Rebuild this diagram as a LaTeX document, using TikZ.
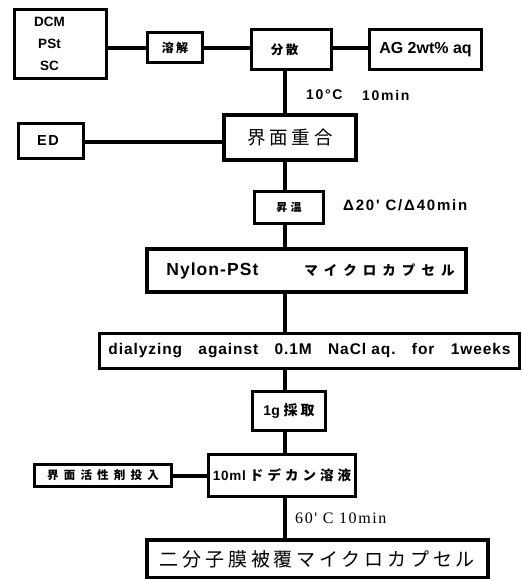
\documentclass[tikz,border=0pt]{standalone}
\usepackage{fontspec}
\setmainfont{Liberation Sans}
\newfontfamily\cjk{Noto Sans CJK JP}
\newfontfamily\cjksp[LetterSpace=20]{Noto Sans CJK JP}
\newfontfamily\cjkspb[LetterSpace=30]{Noto Sans CJK JP}
\newfontfamily\cjkspc[LetterSpace=45]{Noto Sans CJK JP}
\newfontfamily\latsp[LetterSpace=6]{Liberation Sans}
\newfontfamily\latspb[LetterSpace=12]{Liberation Sans}
\newfontfamily\serifface[LetterSpace=10]{Liberation Serif}
\begin{document}
\begin{tikzpicture}[x=1pt,y=-1pt,
  box/.style={draw, line width=3.4pt, inner sep=0pt, align=center},
  heavy/.style={box, line width=4.2pt},
  conn/.style={line width=3.2pt},
  lbl/.style={inner sep=0pt, anchor=west}]
\useasboundingbox (0,0) rectangle (522,579);
\coordinate (spine) at (285,0);

% row 1
\node[box, minimum width=92pt, minimum height=69pt, font=\bfseries\fontsize{13.5}{22}\selectfont] (dcm) at (60.5,44)
  {\raisebox{4pt}{\begin{tabular}{@{}c@{\hspace{22pt}}}DCM\\PSt\\SC\end{tabular}}};
\node[box, minimum width=55pt, minimum height=30pt, font=\bfseries\fontsize{12}{14}\selectfont\cjksp] (yokai) at (175,47.5) {溶解};
\node[box, minimum width=80pt, minimum height=40pt, font=\bfseries\fontsize{12.5}{14}\selectfont\cjksp] (bunsan) at (291.5,49.5) {分散\hspace*{14pt}};
\node[box, minimum width=112pt, minimum height=40pt, font=\bfseries\fontsize{16}{18}\selectfont] (ag) at (425.5,49.5) {AG 2wt\% aq};
\draw[conn] (dcm.east |- 0,48) -- (yokai.west |- 0,48);
\draw[conn] (yokai.east |- 0,48) -- (bunsan.west |- 0,48);
\draw[conn] (bunsan.east |- 0,48) -- (ag.west |- 0,48);

\node[lbl, font=\bfseries\fontsize{14}{16}\selectfont\latspb] (t1) at (306,95) {10°C};
\node[lbl, font=\bfseries\fontsize{14}{16}\selectfont\latspb] (t2) at (362,95) {10min};

% row 2
\node[heavy, minimum width=132pt, minimum height=45pt, font=\fontsize{18.5}{20}\selectfont\cjksp] (jugo) at (290,137.5) {界面重合};
\node[box, minimum width=65pt, minimum height=35pt, font=\bfseries\fontsize{14.5}{16}\selectfont\latspb] (ed) at (51,141) {ED\hspace*{6pt}};
\draw[conn] (ed.east |- 0,142) -- (jugo.west |- 0,142);
\draw[conn] (bunsan.south -| spine) -- (jugo.north -| spine);

\node[box, minimum width=69pt, minimum height=32pt, font=\bfseries\fontsize{11}{13}\selectfont\cjkspb] (shoon) at (289,207.5) {昇温};
\draw[conn] (jugo.south -| spine) -- (shoon.north -| spine);
\node[lbl, font=\bfseries\fontsize{15}{17}\selectfont\latspb] (t3) at (343,205) {Δ20' C/Δ40min};

\node[heavy, minimum width=319pt, minimum height=43pt] (nylon) at (306.5,270.5)
  {\hspace*{8pt}\bfseries\fontsize{17.5}{19}\selectfont\latsp Nylon-PSt\hspace{46pt}\fontsize{13.5}{15}\selectfont\cjkspc マイクロカプセル};
\draw[conn] (shoon.south -| spine) -- (nylon.north -| spine);

\node[box, minimum width=420pt, minimum height=35pt, font=\bfseries\fontsize{15.5}{17}\selectfont\latsp] (dial) at (309.5,351)
  {dialyzing\hspace{1.05em}against\hspace{1.05em}0.1M\hspace{1.05em}NaCl aq.\hspace{1.05em}for\hspace{1.05em}1weeks};
\draw[conn] (nylon.south -| spine) -- (dial.north -| spine);

\node[box, minimum width=73pt, minimum height=39pt, font=\bfseries\fontsize{14}{16}\selectfont] (saishu) at (289,411) {1g {\cjksp 採取}};
\draw[conn] (dial.south -| spine) -- (saishu.north -| spine);

\node[box, minimum width=147pt, minimum height=42pt, font=\bfseries\fontsize{13.5}{16}\selectfont] (dodecane) at (282,475.5) {{\latsp 10ml}\hspace{4pt}{\cjkspb ドデカン溶液}};
\node[box, minimum width=137pt, minimum height=22pt, font=\bfseries\fontsize{11.5}{13}\selectfont] (kaimen) at (103,475.5) {\cjkspc 界面活性剤投入};
\draw[conn] (kaimen.east |- 0,476) -- (dodecane.west |- 0,476);
\draw[conn] (saishu.south -| spine) -- (dodecane.north -| spine);

\node[lbl, font=\serifface\fontsize{16}{18}\selectfont] (t4) at (295,518) {60' C 10min};

\node[heavy, minimum width=341pt, minimum height=38pt, font=\fontsize{19}{21}\selectfont\cjksp] (final) at (317.5,559) {二分子膜被覆マイクロカプセル};
\draw[conn] (dodecane.south -| spine) -- (final.north -| spine);
\end{tikzpicture}
\end{document}
